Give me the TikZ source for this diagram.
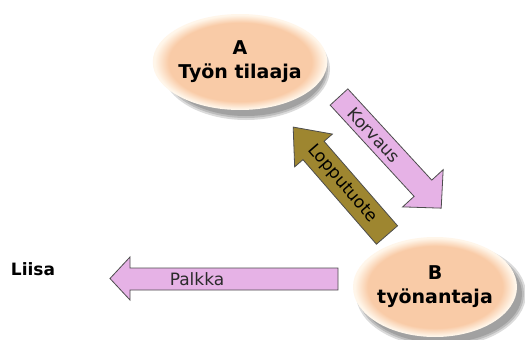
\documentclass[tikz,border=0pt]{standalone}
\usepackage{fontspec}
\setmainfont{DejaVu Sans}
\usetikzlibrary{shapes.geometric}
\definecolor{peach}{HTML}{F9CBA7}
\definecolor{rim}{HTML}{FFF6EA}
\definecolor{violetfill}{HTML}{E6B2E6}
\definecolor{olivefill}{HTML}{9E8630}
\definecolor{edgegray}{HTML}{4D4D4D}
\definecolor{txtdark}{HTML}{2B2B2B}
\pgfdeclareradialshading{peachshade}{\pgfpoint{0bp}{0bp}}{color(0bp)=(peach); color(20.5bp)=(peach); color(24.5bp)=(rim); color(50bp)=(rim)}
\begin{document}
\begin{tikzpicture}[x=1pt,y=-1pt,
  bubble/.style={ellipse, minimum width=162pt, minimum height=96pt, shade, shading=peachshade, inner sep=0pt, align=center, font=\bfseries\fontsize{19}{24}\selectfont},
  bshadow/.style={fill=black, opacity=0.14},
  varrow/.style={draw=edgegray, line width=0.8pt, fill=violetfill, line join=miter},
  oarrow/.style={draw=edgegray, line width=0.8pt, fill=olivefill, line join=miter},
  arrowtext/.style={font=\fontsize{17}{20}\selectfont, text=txtdark, inner sep=0pt},
  plain/.style={font=\bfseries\fontsize{17}{20}\selectfont, inner sep=0pt}]
\useasboundingbox (0,0) rectangle (525,340);
\fill[white] (0,0) rectangle (525,340);

% shadows
\foreach \d in {0,2,4} {
  \fill[bshadow] (246,69) ellipse [x radius=80+\d, y radius=47+\d];
  \fill[bshadow] (441,294) ellipse [x radius=81+\d, y radius=49+\d];
}

\node[bubble] (A) at (240,62) {A\\Työn tilaaja};
\node[bubble, minimum width=164pt, minimum height=100pt] (B) at (435,287) {B\\työnantaja};
\node[plain] (L) at (33,269) {Liisa};

% Korvaus arrow (A -> B)
\begin{scope}[shift={(339,97)}, rotate=-47.4]
  \draw[varrow] (0,-12) -- (124,-12) -- (124,-27.5) -- (151,0) -- (124,27.5) -- (124,12) -- (0,12) -- cycle;
  \node[arrowtext, rotate=-47.4] (korv) at (52,0) {Korvaus};
\end{scope}

% Lopputuote arrow (B -> A)
\begin{scope}[shift={(387,235)}, rotate=131]
  \draw[oarrow] (0,-14) -- (112,-14) -- (112,-25) -- (143,0) -- (112,25) -- (112,14) -- (0,14) -- cycle;
  \node[arrowtext, text=black, rotate=-49] (lopp) at (68,0) {Lopputuote};
\end{scope}

% Palkka arrow (B -> Liisa)
\draw[varrow] (338,268) -- (130,268) -- (130,257) -- (110,278.5) -- (130,300) -- (130,290) -- (338,290) -- cycle;
\node[arrowtext] (palk) at (197,279) {Palkka};
\end{tikzpicture}
\end{document}
